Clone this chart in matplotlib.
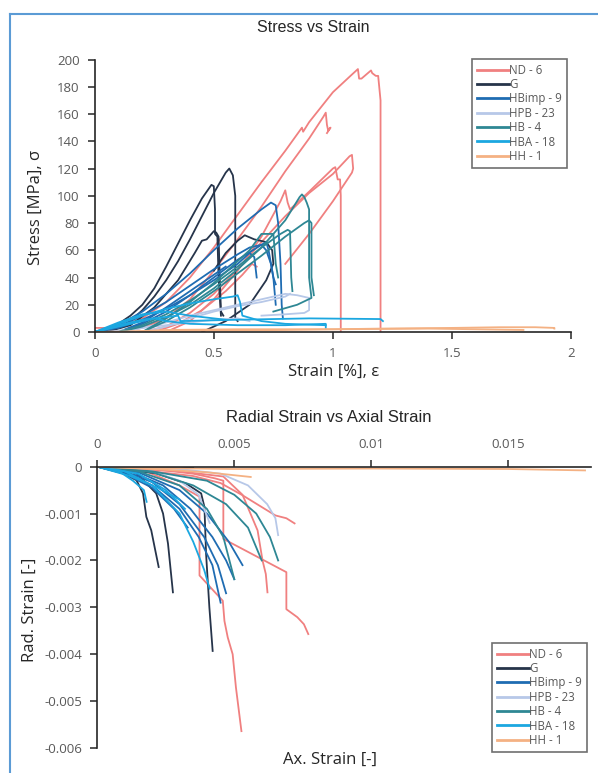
import matplotlib
matplotlib.use('Agg')
import matplotlib.pyplot as plt
import matplotlib.lines as mlines

# nombres y colores de las series (orden de la leyenda)
series = ['ND - 6', 'G', 'HBimp - 9', 'HPB - 23', 'HB - 4', 'HBA - 18', 'HH - 1']
colores = ['#f08080', '#26344a', '#1f6cb2', '#b7c8e8', '#2e8794', '#1ba7e0', '#f4b183']

# ---- Stress vs Strain (x en %, y en MPa) ----
nd6_stress = [
    ([0, 0.05, 0.1, 0.2, 0.3, 0.4, 0.5, 0.6, 0.7, 0.8, 0.87, 0.875, 0.9, 1.0, 1.08, 1.105, 1.11, 1.12, 1.16, 1.165, 1.18, 1.19, 1.2, 1.2, 1.2],
     [3, 3, 4, 10, 22, 40, 62, 86, 110, 133, 150, 147, 154, 176, 189, 193, 186, 186, 192, 190, 188, 188, 170, 2, 0]),
    ([0.1, 0.2, 0.3, 0.4, 0.5, 0.6, 0.7, 0.8, 0.9, 0.96, 0.97, 0.975, 0.98, 0.99, 0.975],
     [0, 3, 10, 24, 45, 68, 92, 118, 142, 158, 161, 152, 148, 150, 146]),
    ([0.2, 0.3, 0.4, 0.5, 0.6, 0.7, 0.8, 0.9, 1.0, 1.07, 1.08, 1.085, 1.08, 1.0, 0.9, 0.8],
     [0, 4, 14, 28, 46, 66, 85, 102, 116, 129, 130, 120, 117, 96, 72, 50]),
    ([0.3, 0.4, 0.5, 0.6, 0.7, 0.78, 0.8, 0.81, 0.82, 0.9, 1.0, 1.01, 1.02, 1.03, 1.033, 1.033],
     [0, 8, 24, 45, 70, 96, 104, 95, 90, 103, 120, 121, 112, 112, 100, 0]),
    ([0.25, 0.35, 0.45, 0.55, 0.62, 0.66, 0.68],
     [0, 6, 16, 30, 42, 50, 48]),
]
g_stress = [
    ([0, 0.05, 0.1, 0.15, 0.2, 0.25, 0.3, 0.35, 0.4, 0.45, 0.49, 0.5, 0.505, 0.505, 0.515, 0.52, 0.53],
     [0, 2, 6, 12, 20, 32, 48, 65, 82, 98, 108, 107, 90, 72, 70, 40, 12]),
    ([0, 0.1, 0.15, 0.2, 0.25, 0.3, 0.35, 0.4, 0.45, 0.5, 0.55, 0.565, 0.58, 0.59, 0.59, 0.6],
     [0, 3, 8, 16, 26, 38, 52, 68, 85, 102, 117, 120, 115, 100, 10, 8]),
    ([0.05, 0.15, 0.25, 0.35, 0.42, 0.45, 0.47, 0.5, 0.51, 0.52, 0.525, 0.53, 0.54],
     [0, 5, 18, 38, 58, 67, 68, 74, 73, 70, 40, 15, 12]),
    ([0.45, 0.55, 0.65, 0.72, 0.75, 0.745, 0.72, 0.67, 0.63, 0.6, 0.55, 0.5],
     [0, 8, 20, 38, 50, 60, 66, 68, 71, 67, 58, 45]),
]
hbimp_stress = [
    ([0, 0.1, 0.2, 0.3, 0.4, 0.5, 0.6, 0.7, 0.74, 0.76, 0.77, 0.78, 0.785, 0.79],
     [0, 5, 15, 28, 43, 60, 76, 90, 95, 93, 80, 50, 20, 10]),
    ([0, 0.1, 0.2, 0.3, 0.4, 0.5, 0.6, 0.65, 0.7, 0.72, 0.74, 0.75, 0.76],
     [0, 4, 12, 22, 34, 46, 57, 62, 64, 60, 50, 40, 35]),
    ([0.1, 0.2, 0.3, 0.4, 0.5, 0.6, 0.7, 0.72, 0.73, 0.75, 0.76],
     [0, 6, 15, 27, 40, 53, 64, 66, 60, 40, 20]),
    ([0, 0.1, 0.2, 0.3, 0.4, 0.5, 0.6, 0.65, 0.67, 0.68],
     [0, 3, 9, 17, 27, 38, 50, 58, 55, 40]),
    ([0.1, 0.2, 0.3, 0.4, 0.5, 0.55],
     [0, 7, 18, 30, 42, 48]),
]
hpb_stress = [
    ([0.1, 0.2, 0.3, 0.4, 0.5, 0.6, 0.7, 0.8, 0.85, 0.9, 0.9, 0.88, 0.8, 0.7],
     [0, 3, 7, 12, 16, 20, 24, 28, 27, 25, 16, 14, 13, 12]),
    ([0.2, 0.3, 0.4, 0.5, 0.6, 0.7, 0.8, 0.82],
     [0, 4, 10, 15, 19, 22, 26, 28]),
    ([0.05, 0.2, 0.35, 0.5, 0.6, 0.65],
     [0, 3, 6, 9, 10, 8]),
]
hb4_stress = [
    ([0.1, 0.2, 0.3, 0.4, 0.5, 0.6, 0.7, 0.8, 0.86, 0.87, 0.88, 0.89, 0.9, 0.9, 0.91, 0.85, 0.75],
     [0, 4, 11, 20, 32, 46, 62, 82, 99, 101, 99, 95, 90, 40, 25, 20, 15]),
    ([0.2, 0.3, 0.4, 0.5, 0.6, 0.7, 0.8, 0.88, 0.9, 0.91, 0.91, 0.92],
     [0, 8, 18, 30, 43, 56, 70, 80, 82, 80, 40, 27]),
    ([0.1, 0.2, 0.3, 0.4, 0.5, 0.6, 0.7, 0.78, 0.81, 0.82, 0.825, 0.83],
     [0, 5, 13, 23, 35, 48, 62, 72, 75, 74, 40, 30]),
    ([0.2, 0.3, 0.4, 0.5, 0.6, 0.65, 0.7, 0.75, 0.76, 0.77],
     [0, 10, 22, 36, 52, 60, 72, 72, 50, 40]),
]
hba_stress = [
    ([0, 0.1, 0.2, 0.3, 0.35, 0.36, 0.6, 0.9, 1.2, 1.21],
     [0, 5, 9, 11, 12, 8, 9, 10, 9.5, 8]),
    ([0, 0.1, 0.2, 0.3, 0.4, 0.5, 0.58, 0.6, 0.61, 0.62, 0.7, 0.8, 0.97],
     [0, 6, 12, 17, 21, 24, 26, 27, 22, 12, 8, 6, 5]),
    ([0, 0.1, 0.2, 0.25, 0.3, 0.4, 0.6, 0.8, 0.97, 0.97],
     [0, 4, 8, 10, 8, 6, 5, 5, 6, 3]),
    ([0, 0.1, 0.2, 0.3, 0.4, 0.5, 0.55],
     [0, 7, 13, 15, 12, 10, 9]),
]
hh_stress = [
    ([0, 0.2, 0.5, 0.8, 1.0, 1.2, 1.5, 1.7, 1.85, 1.93, 1.93],
     [0, 0.5, 1, 1.5, 2, 2.5, 3, 3.5, 3.5, 3, 2.5]),
    ([0.1, 0.3, 0.6, 1.0, 1.4, 1.8],
     [0, 1.5, 2, 2, 2.5, 1.5]),
]

# ---- Radial Strain vs Axial Strain ----
nd6_radial = [
    ([0, 0.002, 0.0035, 0.0043, 0.0046, 0.0046, 0.0069, 0.0069, 0.0073, 0.00754, 0.0077],
     [0, -0.00005, -0.00015, -0.00025, -0.0003, -0.00154, -0.00225, -0.00304, -0.00321, -0.00336, -0.00357]),
    ([0, 0.0015, 0.003, 0.00373, 0.00373, 0.00458, 0.00464, 0.00476, 0.00494, 0.00506, 0.00526],
     [0, -0.00003, -0.0004, -0.00064, -0.00232, -0.00286, -0.00329, -0.00364, -0.004, -0.00471, -0.00564]),
    ([0, 0.002, 0.0035, 0.0045, 0.0053, 0.0065, 0.0069, 0.0072],
     [0, -0.0001, -0.0002, -0.00035, -0.00061, -0.00104, -0.0011, -0.00121]),
    ([0, 0.003, 0.0046, 0.0053, 0.00585, 0.00603, 0.00615, 0.00621],
     [0, -0.0001, -0.00021, -0.0006, -0.00136, -0.002, -0.00229, -0.00268]),
]
g_radial = [
    ([0, 0.00094, 0.00143, 0.00167, 0.00179, 0.00197, 0.00209, 0.00224],
     [0, -0.00014, -0.00029, -0.00057, -0.00107, -0.00136, -0.00171, -0.00214]),
    ([0, 0.00155, 0.00215, 0.0024, 0.00258, 0.00276],
     [0, -0.00021, -0.00057, -0.001, -0.00164, -0.00268]),
    ([0, 0.00215, 0.00324, 0.00379, 0.00391, 0.00397, 0.00409, 0.00421],
     [0, -0.00014, -0.00036, -0.00057, -0.00086, -0.00186, -0.003, -0.00393]),
    ([0.0015, 0.0024, 0.003, 0.0035],
     [0, -0.00001, 0, -0.00002]),
]
hbimp_radial = [
    ([0, 0.001, 0.002, 0.003, 0.0037, 0.0042, 0.0045],
     [0, -0.00012, -0.0004, -0.0009, -0.0015, -0.0021, -0.0029]),
    ([0, 0.001, 0.002, 0.003, 0.0039, 0.0044, 0.0047],
     [0, -0.0001, -0.00033, -0.0008, -0.0015, -0.0021, -0.0027]),
    ([0, 0.0012, 0.0024, 0.0034, 0.0042, 0.0047, 0.005],
     [0, -0.0001, -0.0004, -0.0009, -0.0015, -0.002, -0.0024]),
    ([0, 0.0015, 0.003, 0.004, 0.0048, 0.0053],
     [0, -0.00012, -0.0005, -0.001, -0.0016, -0.0021]),
    ([0, 0.001, 0.002, 0.0028, 0.0033],
     [0, -0.00015, -0.00045, -0.0009, -0.0013]),
]
hpb_radial = [
    ([0, 0.003, 0.0045, 0.0055, 0.0062, 0.0065, 0.0066],
     [0, -0.00005, -0.00015, -0.0004, -0.0008, -0.0011, -0.00146]),
    ([0, 0.002, 0.003, 0.0037, 0.0041],
     [0, -0.0001, -0.0003, -0.0006, -0.0012]),
]
hb4_radial = [
    ([0, 0.002, 0.004, 0.005, 0.0058, 0.0063, 0.0066],
     [0, -0.0001, -0.0003, -0.0006, -0.001, -0.0015, -0.002]),
    ([0, 0.002, 0.0035, 0.0047, 0.0055, 0.006],
     [0, -0.00012, -0.0004, -0.0008, -0.0013, -0.002]),
    ([0, 0.0015, 0.003, 0.004, 0.0046, 0.005],
     [0, -0.0001, -0.0004, -0.0009, -0.0015, -0.0024]),
]
hba_radial = [
    ([0, 0.0008, 0.0013, 0.0017, 0.0018],
     [0, -0.0001, -0.0003, -0.0005, -0.00075]),
    ([0, 0.001, 0.002, 0.003, 0.0035, 0.0039, 0.0041],
     [0, -0.0001, -0.0004, -0.001, -0.0016, -0.0022, -0.0026]),
    ([0, 0.0012, 0.0022, 0.003],
     [0, -0.0002, -0.00045, -0.0007]),
    ([0, 0.0015, 0.0025, 0.0032],
     [0, -0.00015, -0.0005, -0.0009]),
]
hh_radial = [
    ([0, 0.002, 0.005, 0.01, 0.015, 0.0178],
     [0, -0.00003, -0.00005, -0.00004, -0.00005, -0.00008]),
    ([0, 0.002, 0.004, 0.0056],
     [0, -0.00005, -0.00012, -0.00022]),
]

stress_xticks = [0, 0.5, 1, 1.5, 2]
stress_xlabels = ['0', '0.5', '1', '1.5', '2']
stress_yticks = [0, 20, 40, 60, 80, 100, 120, 140, 160, 180, 200]
radial_xticks = [0, 0.005, 0.01, 0.015]
radial_xlabels = ['0', '0.005', '0.01', '0.015']
radial_yticks = [0, -0.001, -0.002, -0.003, -0.004, -0.005, -0.006]
radial_ylabels = ['0', '-0.001', '-0.002', '-0.003', '-0.004', '-0.005', '-0.006']

datos_stress = [nd6_stress, g_stress, hbimp_stress, hpb_stress, hb4_stress, hba_stress, hh_stress]
datos_radial = [nd6_radial, g_radial, hbimp_radial, hpb_radial, hb4_radial, hba_radial, hh_radial]

plt.rcParams['font.family'] = ['Open Sans', 'DejaVu Sans']
gris = '#595959'
eje = '#262626'

fig = plt.figure(figsize=(5.98, 7.73), dpi=100)
fig.patch.set_facecolor('white')


def estilo(ax):
    for lado in ['left', 'bottom', 'top', 'right']:
        ax.spines[lado].set_color(eje)
        ax.spines[lado].set_linewidth(1.2)
    ax.tick_params(direction='out', length=5, width=1.1, color=eje,
                   labelcolor=gris, labelsize=9.5, pad=6)


def leyenda(ax, x0, y1):
    etiquetas = []
    for nombre, color in zip(series, colores):
        etiquetas.append(mlines.Line2D([], [], color=color, lw=2, label=nombre))
    leg = ax.legend(handles=etiquetas, loc='upper left', bbox_to_anchor=(x0, y1),
                    bbox_transform=fig.transFigure, fontsize=8.3, frameon=True,
                    fancybox=False, framealpha=1, handlelength=2.8,
                    handletextpad=0.05, labelspacing=0.12, borderpad=0.4,
                    borderaxespad=0)
    leg.get_frame().set_edgecolor('#6f6f6f')
    leg.get_frame().set_linewidth(1.2)
    for t in leg.get_texts():
        t.set_color(gris)


# ---------- grafico 1 ----------
ax1 = fig.add_axes([0.1584, 0.5705, 0.7966, 0.3525])
for curvas, color in zip(datos_stress, colores):
    for xs, ys in curvas:
        ax1.plot(xs, ys, color=color, lw=1.3, solid_joinstyle='round')
ax1.set_xlim(0, 2)
ax1.set_ylim(0, 200)
ax1.set_xticks(stress_xticks)
ax1.set_xticklabels(stress_xlabels)
ax1.set_yticks(stress_yticks)
ax1.spines['top'].set_visible(False)
ax1.spines['right'].set_visible(False)
estilo(ax1)
leyenda(ax1, 472 / 598, 1 - 59 / 773)

fig.text(313 / 598, 1 - 27 / 773, 'Stress vs Strain', ha='center', va='center',
         fontsize=11.5, family='Liberation Sans', color='#262626')
fig.text(334 / 598, 1 - 372 / 773, 'Strain [%], ε', ha='center', va='center',
         fontsize=12, color='#262626')
fig.text(36 / 598, 1 - 207 / 773, 'Stress [MPa], σ', ha='center', va='center',
         fontsize=12, rotation=90, color='#262626')

# ---------- grafico 2 ----------
ax2 = fig.add_axes([0.1627, 0.0323, 0.8248, 0.364])
for curvas, color in zip(datos_radial, colores):
    for xs, ys in curvas:
        ax2.plot(xs, ys, color=color, lw=1.3, solid_joinstyle='round')
ax2.set_xlim(0, 0.018)
ax2.set_ylim(-0.006, 0)
ax2.xaxis.tick_top()
ax2.set_xticks(radial_xticks)
ax2.set_xticklabels(radial_xlabels)
ax2.set_yticks(radial_yticks)
ax2.set_yticklabels(radial_ylabels)
ax2.spines['bottom'].set_visible(False)
ax2.spines['right'].set_visible(False)
estilo(ax2)
leyenda(ax2, 492 / 598, 1 - 643 / 773)

fig.text(329 / 598, 1 - 418 / 773, 'Radial Strain vs Axial Strain', ha='center', va='center',
         fontsize=12, family='Liberation Sans', color='#262626')
fig.text(330 / 598, 1 - 760 / 773, 'Ax. Strain [-]', ha='center', va='center',
         fontsize=12, color='#262626')
fig.text(30 / 598, 1 - 610 / 773, 'Rad. Strain [-]', ha='center', va='center',
         fontsize=12, rotation=90, color='#262626')

# marco azul de la figura
borde = '#5b9bd5'
fig.add_artist(mlines.Line2D([10 / 598, 1], [1 - 14 / 773, 1 - 14 / 773],
                             transform=fig.transFigure, color=borde, lw=1.5))
fig.add_artist(mlines.Line2D([10 / 598, 10 / 598], [0, 1 - 14 / 773],
                             transform=fig.transFigure, color=borde, lw=1.5))

plt.savefig('out.png', dpi=100)
